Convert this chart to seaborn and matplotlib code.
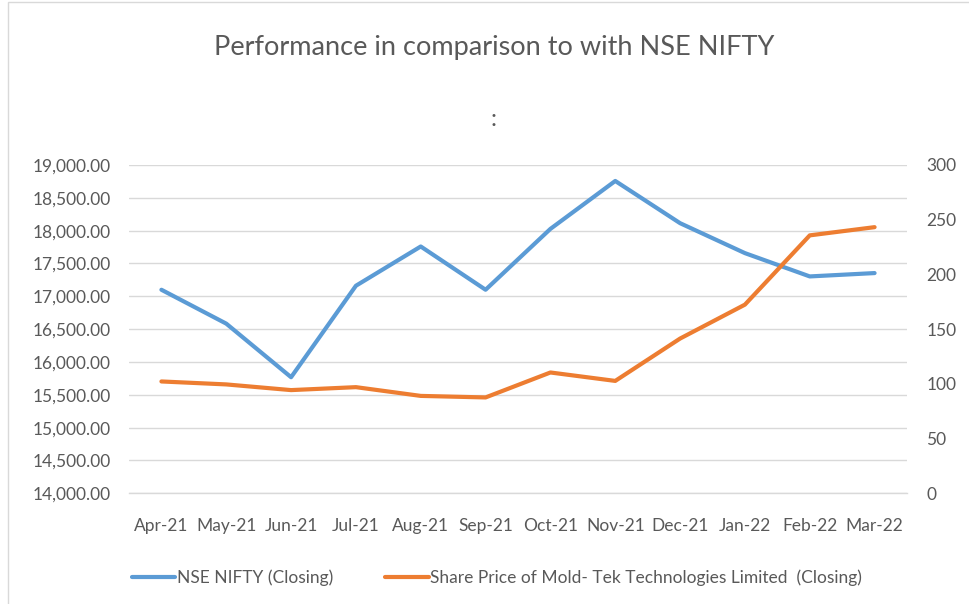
import matplotlib
matplotlib.use("Agg")
import matplotlib.pyplot as plt
import seaborn as sns
import pandas as pd
from matplotlib.lines import Line2D
from matplotlib.patches import Rectangle
from matplotlib.ticker import FuncFormatter, FixedLocator

months = ["Apr-21", "May-21", "Jun-21", "Jul-21", "Aug-21", "Sep-21",
          "Oct-21", "Nov-21", "Dec-21", "Jan-22", "Feb-22", "Mar-22"]
nifty = [17100, 16584, 15768, 17161, 17759, 17100,
         18027, 18757, 18114, 17658, 17303, 17354]
moldtek = [102.2, 99.5, 94.3, 97.0, 89.0, 87.6,
           110.4, 102.7, 141.4, 172.4, 235.7, 243.2]

nifty_label = "NSE NIFTY (Closing)"
moldtek_label = "Share Price of Mold- Tek Technologies Limited  (Closing)"

BLUE = "#5B9BD5"
ORANGE = "#ED7D31"
GRID = "#D9D9D9"
TEXT = "#595959"

sns.set_style("white")
plt.rcParams["font.family"] = ["Lato", "DejaVu Sans"]

df = pd.DataFrame({"month": months, "nifty": nifty, "moldtek": moldtek})
df["pos"] = range(len(months))

fig = plt.figure(figsize=(9.69, 6.04), dpi=100)
ax = fig.add_axes([129 / 969, 1 - 493.3 / 604, 778 / 969, 328.3 / 604])
ax2 = ax.twinx()

sns.lineplot(data=df, x="pos", y="nifty", ax=ax, color=BLUE, linewidth=3,
             solid_capstyle="round")
sns.lineplot(data=df, x="pos", y="moldtek", ax=ax2, color=ORANGE, linewidth=3,
             solid_capstyle="round")

ax.set_xlim(-0.5, len(months) - 0.5)
ax.set_ylim(14000, 19000)
ax.set_yticks(range(14000, 19001, 500))
ax.yaxis.set_major_formatter(FuncFormatter(lambda v, p: f"{v:,.2f}"))
ax2.set_ylim(0, 300)
ax2.set_yticks(range(0, 301, 50))

ax.set_xticks(df["pos"])
ax.set_xticklabels(months)
ax.xaxis.set_minor_locator(FixedLocator([i - 0.5 for i in range(len(months) + 1)]))
ax.tick_params(axis="x", which="major", length=0, pad=18, labelsize=12.5, colors=TEXT)
ax.tick_params(axis="x", which="minor", length=6, width=1, color=GRID)
ax.tick_params(axis="y", length=0, pad=13, labelsize=12.5, colors=TEXT)
ax2.tick_params(axis="y", length=0, pad=14, labelsize=12.5, colors=TEXT)

ax.grid(axis="y", color=GRID, linewidth=1)
ax.set_axisbelow(True)
ax.set_xlabel("")
ax.set_ylabel("")
ax2.set_ylabel("")
for a in (ax, ax2):
    for s in ("top", "left", "right", "bottom"):
        a.spines[s].set_visible(False)
ax.spines["bottom"].set_visible(True)
ax.spines["bottom"].set_color(GRID)
ax.spines["bottom"].set_linewidth(1)

fig.text(494 / 969, 1 - 47 / 604, "Performance in comparison to with NSE NIFTY",
         ha="center", va="center", fontsize=19.5, color=TEXT)
fig.text(494 / 969, 1 - 120 / 604, ":", ha="center", va="center",
         fontsize=17, color=TEXT)

handles = [Line2D([], [], color=BLUE, linewidth=3),
           Line2D([], [], color=ORANGE, linewidth=3)]
fig.legend(handles, [nifty_label, moldtek_label], loc="center",
           bbox_to_anchor=(497 / 969, 1 - 578 / 604), ncol=2, frameon=False,
           fontsize=12.5, labelcolor=TEXT, handlelength=2.5, handletextpad=0.1,
           columnspacing=3.0)

fig.patches.append(Rectangle((8 / 969, -0.01), 1.02, 1.0 - 2 / 604 + 0.01,
                             transform=fig.transFigure, fill=False,
                             edgecolor=GRID, linewidth=1))

fig.savefig("out.png", dpi=100)
